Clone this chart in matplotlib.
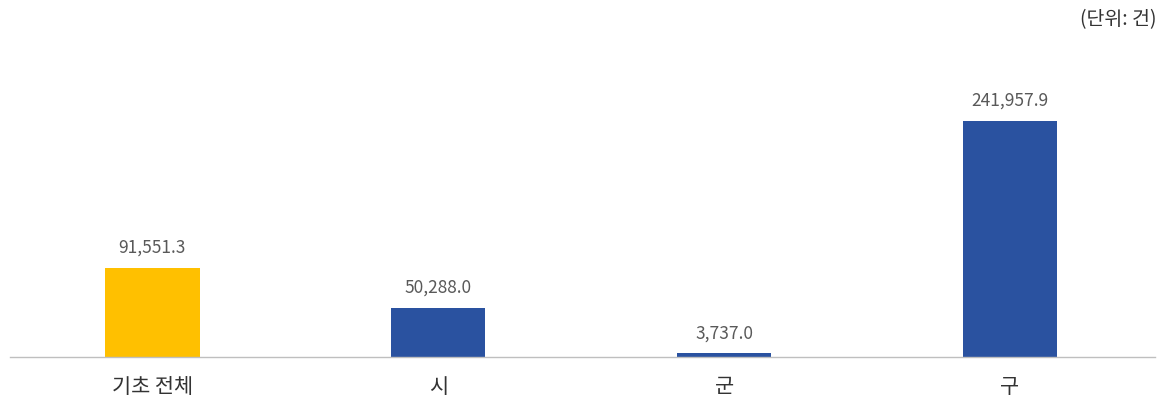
from matplotlib import pyplot as plt

plt.rcParams['font.family'] = ['Noto Sans CJK KR', 'DejaVu Sans']

# 데이터
categories = ["기초 전체", "시", "군", "구"]
values = [91551.3, 50288.0, 3737.0, 241957.9]
colors = ["#FFC000", "#2A52A0", "#2A52A0", "#2A52A0"]

fig = plt.figure(figsize=(11.63, 4.09), dpi=100)
ax = fig.add_axes([10 / 1163, 52 / 409, 1145 / 1163, 317 / 409])

x = range(len(categories))
bars = ax.bar(x, values, width=0.33, color=colors)

# 값 라벨
for b, v in zip(bars, values):
    ax.annotate("{:,.1f}".format(v), (b.get_x() + b.get_width() / 2, v),
                xytext=(0, 8), textcoords="offset points",
                ha="center", va="bottom", fontsize=12.5, color="#595959")

ax.set_xlim(-0.498, 3.507)
ax.set_ylim(0, 325000)
ax.set_xticks(list(x))
ax.set_xticklabels(categories, fontsize=15, color="#333333")
ax.tick_params(axis="x", length=0, pad=14)
ax.set_yticks([])

for s in ["top", "right", "left"]:
    ax.spines[s].set_visible(False)
ax.spines["bottom"].set_color("#BFBFBF")
ax.spines["bottom"].set_linewidth(1)

fig.text(1157 / 1163, 1 - 20 / 409, "(단위: 건)", ha="right", va="center",
         fontsize=14, color="#333333")

plt.savefig("out.png")
